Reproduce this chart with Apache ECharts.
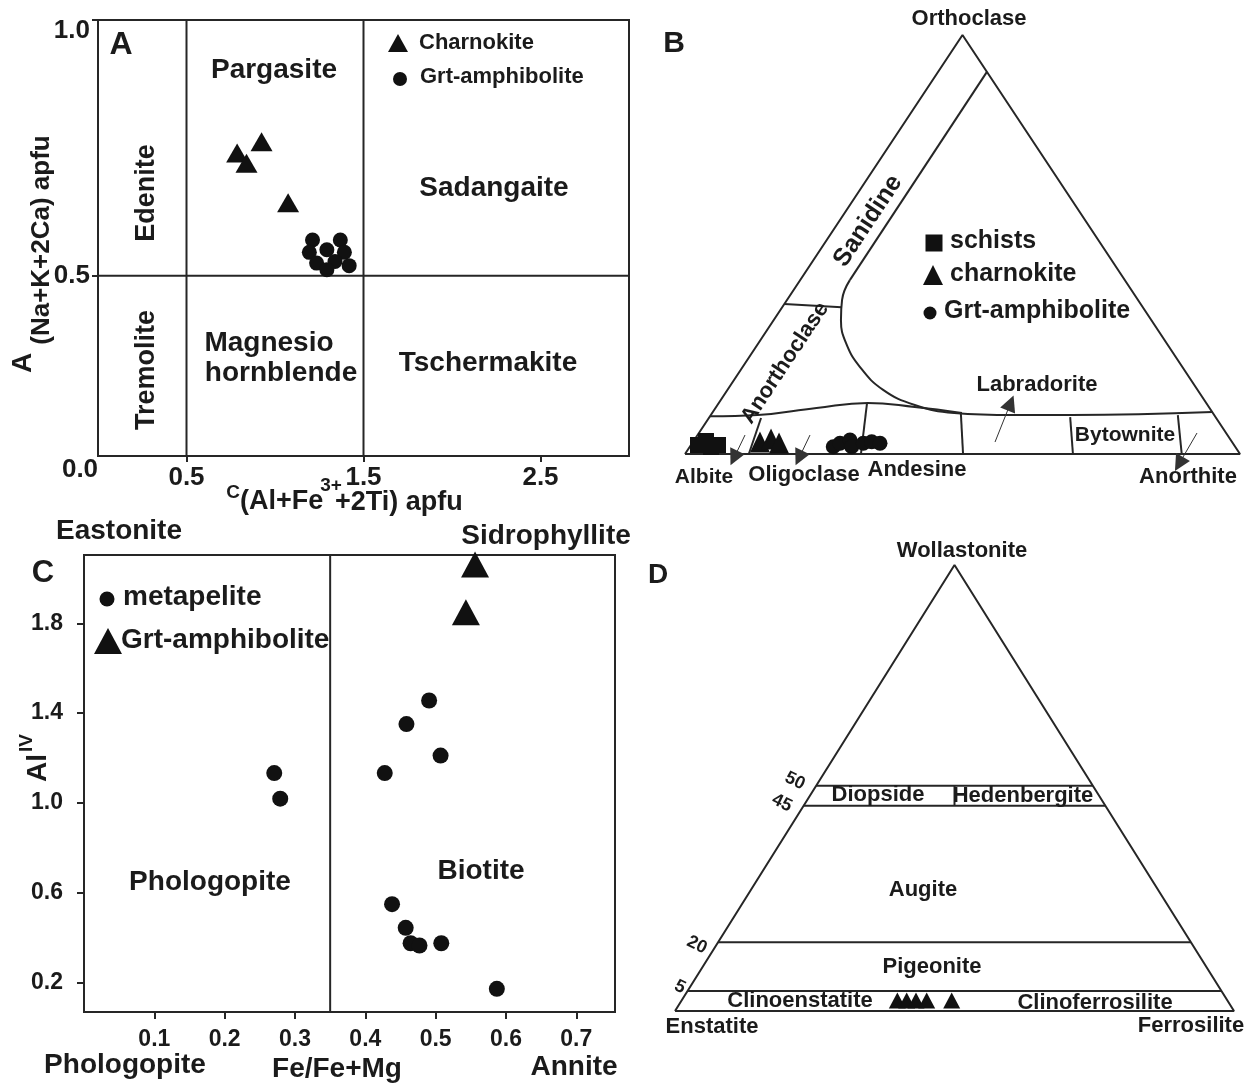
<!DOCTYPE html>
<html><head><meta charset="utf-8">
<script src="https://cdn.jsdelivr.net/npm/echarts@6/dist/echarts.min.js"></script>
<style>html,body{margin:0;padding:0;background:#fff}#c{width:1252px;height:1084px}</style>
</head><body><div id="c"></div>
<script>
// ================= DATA =================
// ---- Panel A : amphibole classification (x = C(Al+Fe3+ +2Ti), y = A(Na+K+2Ca))
const aXRange = [0, 3];
const aYRange = [0.148, 1.0];
const aXTicks = [0.5, 1.5, 2.5];
const aYTicks = [0.5, 1.0];
const aXDividers = [0.5, 1.5];
const aYDivider = 0.5;
const aCharnokite = [[0.786,0.740],[0.924,0.762],[0.839,0.720],[1.074,0.643]];
const aGrtAmph = [[1.212,0.570],[1.369,0.570],[1.194,0.546],[1.293,0.551],[1.392,0.546],
                  [1.235,0.525],[1.339,0.528],[1.419,0.520],[1.293,0.512]];

// ---- Panel B : feldspar ternary, points as [An, Or] fractions (Ab = 1 - An - Or)
const bOutline = [[0,0],[0,1],[1,0],[0,0]];
const bSanidineEdge = [[0.088,0.912],[0.0895,0.415]];
const bSanidineCurve = [[0.0895,0.415],[0.099,0.368],[0.121,0.320],[0.1575,0.265],[0.211,0.208],
                        [0.2805,0.153],[0.3555,0.117],[0.436,0.098],[0.5445,0.093],[0.6505,0.093],[0.90,0.10]];
const bAnorthoclaseTop = [[0,0.358],[0.107,0.35]];
const bPlagTop = [[0,0.09],[0.0845,0.093],[0.182,0.110],[0.268,0.122],[0.358,0.112],[0.45,0.098]];
const bPlagDividers = [
  [[0.115,0],[0.094,0.086]],
  [[0.317,0],[0.267,0.122]],
  [[0.501,0],[0.448,0.098]],
  [[0.699,0],[0.650,0.088]],
  [[0.895,0],[0.8415,0.093]]
];
const bArrows = [
  [[0.0855,0.0453],[0.0930,-0.0095]],
  [[0.2026,0.0453],[0.2102,-0.0095]],
  [[0.5443,0.0286],[0.5258,0.1217]],
  [[0.8975,0.0501],[0.9020,-0.0239]]
];
const bSchists = [[0.0127,0.0215],[0.0223,0.031],[0.0385,0.0167],[0.0487,0.0215]];
const bCharnokite = [[0.1208,0.0286],[0.1371,0.0358],[0.1563,0.0263]];
const bGrtAmph = [[0.2585,0.0174],[0.2665,0.0255],[0.2806,0.0334],[0.2917,0.0174],
                  [0.3085,0.0255],[0.3217,0.0294],[0.3386,0.0255]];

// ---- Panel C : biotite (x = Fe/(Fe+Mg), y = Al IV)
const cXRange = [0, 0.755];
const cYRange = [0.069, 2.104];
const cXTicks = [0.1,0.2,0.3,0.4,0.5,0.6,0.7];
const cYTicks = [0.2,0.6,1.0,1.4,1.8];
const cDivider = 0.35;
const cMetapelite = [[0.2705,1.133],[0.279,1.019],[0.4907,1.456],[0.4585,1.351],[0.507,1.211],
                     [0.4276,1.133],[0.438,0.549],[0.4574,0.444],[0.4644,0.375],[0.477,0.365],
                     [0.508,0.375],[0.587,0.172]];
const cGrtAmph = [[0.556,2.062],[0.543,1.849]];

// ---- Panel D : pyroxene ternary, points as [Fs, Wo] fractions (En = 1 - Fs - Wo)
const dOutline = [[0,0],[0,1],[1,0],[0,0]];
const dWoBoundaries = [0.505, 0.46, 0.154, 0.045];
const dWoBoundaryLabels = ['50', '45', '20', '5'];
const dPyroxene = [[0.386,0.0235],[0.4027,0.0235],[0.4194,0.0235],[0.4385,0.0235],[0.4832,0.0235]];

// ================= HELPERS =================
const FONT = '"Liberation Sans", Arial, Helvetica, sans-serif';
const INK = '#1b1b1b';
const LINE = '#262626';
const ternXY = p => [p[0] + p[1] / 2, p[1]];

function seg(grid, pts, extra) {
  return Object.assign({
    type: 'line', xAxisIndex: grid, yAxisIndex: grid, data: pts,
    symbol: 'none', silent: true, clip: false, animation: false, z: 2,
    lineStyle: { color: LINE, width: 2 }
  }, extra || {});
}
function dots(grid, name, data, symbol, size) {
  return {
    type: 'scatter', name, xAxisIndex: grid, yAxisIndex: grid, data,
    symbol, symbolSize: size, clip: false, animation: false, z: 5,
    itemStyle: { color: '#111', opacity: 1 }
  };
}
function txt(text, x, y, size, o) {
  o = o || {};
  const align = o.align || 'center';
  return {
    type: 'text', x, y, rotation: o.rot || 0, z: 10, silent: true,
    style: {
      text, x: 0, y: 0, fill: INK,
      font: (o.weight || 'bold') + ' ' + size + 'px ' + FONT,
      align, textAlign: align, verticalAlign: 'middle', textVerticalAlign: 'middle'
    }
  };
}
function triMark(x, y, w, h) {
  return { type: 'polygon', z: 10, silent: true,
    shape: { points: [[x - w/2, y + h/2], [x, y - h/2], [x + w/2, y + h/2]] },
    style: { fill: '#111' } };
}
function circMark(x, y, d) {
  return { type: 'circle', z: 10, silent: true, shape: { cx: x, cy: y, r: d/2 }, style: { fill: '#111' } };
}
function rectMark(x, y, s) {
  return { type: 'rect', z: 10, silent: true, shape: { x: x - s/2, y: y - s/2, width: s, height: s }, style: { fill: '#111' } };
}
const fmt1 = v => Number(v).toFixed(1);
function valAxis(grid, range, ticks, o) {
  o = o || {};
  return {
    type: 'value', gridIndex: grid, min: range[0], max: range[1],
    axisLine: { show: false }, splitLine: { show: false },
    axisTick: { show: true, inside: false, length: o.tickLen || 6, customValues: ticks,
      lineStyle: { color: LINE, width: 2 } },
    axisLabel: { show: true, customValues: ticks, formatter: o.formatter || fmt1, margin: o.margin,
      fontSize: o.fontSize, fontWeight: 'bold', fontFamily: FONT, color: INK, rich: o.rich }
  };
}
function hiddenAxis(grid, min, max) {
  return { type: 'value', gridIndex: grid, min, max, show: false, splitLine: { show: false } };
}

// ================= SERIES =================
const series = [];
// Panel A
aXDividers.forEach(x => series.push(seg(0, [[x, aYRange[0]], [x, aYRange[1]]])));
series.push(seg(0, [[aXRange[0], aYDivider], [aXRange[1], aYDivider]]));
series.push(dots(0, 'Charnokite', aCharnokite, 'triangle', [22, 19]));
series.push(dots(0, 'Grt-amphibolite', aGrtAmph, 'circle', 15));
// Panel B
series.push(seg(1, bOutline.map(ternXY)));
series.push(seg(1, bSanidineEdge.map(ternXY)));
series.push(seg(1, bSanidineCurve.map(ternXY), { smooth: 0.45 }));
series.push(seg(1, bAnorthoclaseTop.map(ternXY)));
series.push(seg(1, bPlagTop.map(ternXY), { smooth: 0.45 }));
bPlagDividers.forEach(d => series.push(seg(1, d.map(ternXY))));
series.push({
  type: 'lines', coordinateSystem: 'cartesian2d', xAxisIndex: 1, yAxisIndex: 1,
  symbol: ['none', 'triangle'], symbolSize: 16, silent: true, clip: false, animation: false, z: 4,
  lineStyle: { color: '#333', width: 1, opacity: 1, curveness: 0 },
  itemStyle: { color: '#111' },
  data: bArrows.map(a => ({ coords: a.map(ternXY) }))
});
series.push(dots(1, 'schists', bSchists.map(ternXY), 'rect', 16));
series.push(dots(1, 'charnokite', bCharnokite.map(ternXY), 'triangle', [20, 21]));
series.push(dots(1, 'Grt-amphibolite (B)', bGrtAmph.map(ternXY), 'circle', 15));
// Panel C
series.push(seg(2, [[cDivider, cYRange[0]], [cDivider, cYRange[1]]]));
series.push(dots(2, 'metapelite', cMetapelite, 'circle', 16));
series.push(dots(2, 'Grt-amphibolite (C)', cGrtAmph, 'triangle', [28, 26]));
// Panel D
series.push(seg(3, dOutline.map(ternXY)));
dWoBoundaries.forEach(w => series.push(seg(3, [[0, w], [1 - w, w]].map(ternXY))));
series.push(seg(3, [[0.5 - dWoBoundaries[1] / 2, dWoBoundaries[1]], [0.5 - dWoBoundaries[0] / 2, dWoBoundaries[0]]].map(ternXY)));
series.push(dots(3, 'pyroxene', dPyroxene.map(ternXY), 'triangle', [17, 16]));

// ================= TEXT / GRAPHICS =================
const R90 = Math.PI / 2;
const bEdgeAngle = Math.atan2(419, 278);
const g = [
  // ---- A
  txt('A', 121, 45, 32),
  txt('Pargasite', 274, 70, 28),
  txt('Sadangaite', 494, 188, 28),
  txt('Edenite', 147, 193, 27, { rot: R90 }),
  txt('Tremolite', 147, 370, 27, { rot: R90 }),
  txt('Magnesio', 269, 343, 28),
  txt('hornblende', 281, 373, 28),
  txt('Tschermakite', 488, 363, 28),
  triMark(398, 43, 20, 18), txt('Charnokite', 419, 43, 22, { align: 'left' }),
  circMark(400, 79, 14), txt('Grt-amphibolite', 420, 77, 22, { align: 'left' }),
  txt('A', 23, 363, 28, { rot: R90 }),
  txt('(Na+K+2Ca) apfu', 42, 240, 26, { rot: R90 }),
  txt('C', 233, 493, 19),
  txt('(Al+Fe', 240, 502, 27, { align: 'left' }),
  txt('3+', 331, 486, 19),
  txt('+2Ti) apfu', 335, 503, 27, { align: 'left' }),
  txt('0.0', 80, 470, 26),
  // ---- B
  txt('B', 674, 44, 30),
  txt('Orthoclase', 969, 19, 22),
  txt('Sanidine', 868, 221, 25, { rot: bEdgeAngle }),
  txt('Anorthoclase', 785, 363, 22, { rot: bEdgeAngle }),
  txt('Labradorite', 1037, 385, 22),
  txt('Bytownite', 1125, 435, 21),
  txt('Albite', 704, 477, 21),
  txt('Oligoclase', 804, 475, 22),
  txt('Andesine', 917, 470, 22),
  txt('Anorthite', 1188, 477, 22),
  rectMark(934, 243, 17), txt('schists', 950, 241, 25, { align: 'left' }),
  triMark(933, 275, 20, 20), txt('charnokite', 950, 274, 25, { align: 'left' }),
  circMark(930, 313, 13), txt('Grt-amphibolite', 944, 311, 25, { align: 'left' }),
  // ---- C
  txt('C', 43, 573, 31),
  txt('Eastonite', 119, 531, 28),
  txt('Sidrophyllite', 546, 536, 28),
  circMark(107, 599, 15), txt('metapelite', 123, 597, 28, { align: 'left' }),
  triMark(108, 641, 28, 26), txt('Grt-amphibolite', 121, 640, 28, { align: 'left' }),
  txt('Phologopite', 210, 882, 28),
  txt('Biotite', 481, 871, 28),
  txt('Al', 38, 768, 28, { rot: R90 }),
  txt('IV', 27, 743, 19, { rot: R90 }),
  txt('Phologopite', 125, 1065, 28),
  txt('Fe/Fe+Mg', 337, 1069, 28),
  txt('Annite', 574, 1067, 28),
  // ---- D
  txt('D', 658, 575, 28),
  txt('Wollastonite', 962, 551, 22),
  txt(dWoBoundaryLabels[0], 795, 781, 18, { rot: -0.45 }),
  txt(dWoBoundaryLabels[1], 782, 803, 18, { rot: -0.45 }),
  txt(dWoBoundaryLabels[2], 697, 945, 18, { rot: -0.45 }),
  txt(dWoBoundaryLabels[3], 680, 987, 18, { rot: -0.45 }),
  txt('Diopside', 878, 795, 22),
  txt('Hedenbergite', 1023, 796, 22),
  txt('Augite', 923, 890, 22),
  txt('Pigeonite', 932, 967, 22),
  txt('Clinoenstatite', 800, 1001, 22),
  txt('Clinoferrosilite', 1095, 1003, 22),
  txt('Enstatite', 712, 1027, 22),
  txt('Ferrosilite', 1191, 1026, 22)
];

// ================= CHART =================
const chart = echarts.init(document.getElementById('c'), null, { renderer: 'canvas' });
chart.setOption({
  backgroundColor: '#ffffff',
  animation: false,
  textStyle: { fontFamily: FONT },
  grid: [
    { left: 98, top: 20, width: 531, height: 436, show: true, borderColor: LINE, borderWidth: 2, backgroundColor: 'transparent' },
    { left: 685, top: 35, width: 555, height: 419, show: false },
    { left: 84, top: 555, width: 531, height: 457, show: true, borderColor: LINE, borderWidth: 2, backgroundColor: 'transparent' },
    { left: 675, top: 565, width: 559, height: 446, show: false }
  ],
  xAxis: [
    valAxis(0, aXRange, aXTicks, { fontSize: 26, margin: 9, tickLen: 6 }),
    hiddenAxis(1, 0, 1),
    valAxis(2, cXRange, cXTicks, { fontSize: 23, margin: 16, tickLen: 7 }),
    hiddenAxis(3, 0, 1)
  ],
  yAxis: [
    valAxis(0, aYRange, aYTicks, {
      fontSize: 26, margin: 8, tickLen: 6,
      formatter: v => (v >= 0.99 ? '{lo|' + fmt1(v) + '}' : fmt1(v)),
      rich: { lo: { padding: [22, 0, 0, 0], fontSize: 26, fontWeight: 'bold', fontFamily: FONT, color: INK } }
    }),
    hiddenAxis(1, 0, 1),
    valAxis(2, cYRange, cYTicks, { fontSize: 23, margin: 21, tickLen: 7 }),
    hiddenAxis(3, 0, 1)
  ],
  series,
  graphic: { elements: g }
});
</script>
</body></html>
